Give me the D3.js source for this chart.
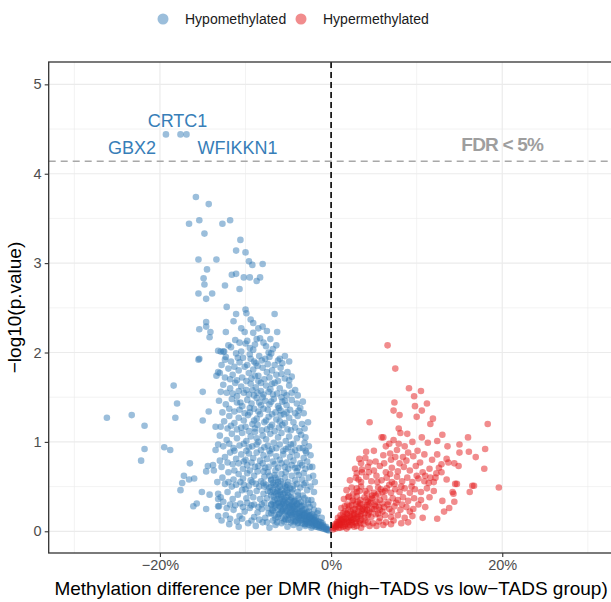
<!DOCTYPE html>
<html><head><meta charset="utf-8">
<script src="https://cdn.jsdelivr.net/npm/d3@7"></script>
<style>body{margin:0;background:#fff}svg{display:block;font-family:"Liberation Sans",Arial,Helvetica,sans-serif}</style>
</head><body><svg id="c" width="611" height="602"></svg>
<script>
// ---------------- data ----------------
const seriesNames = ["Hypomethylated", "Hypermethylated"];
const xTicks = [-20, 0, 20];
const xMinor = [-30, -10, 10, 30];
const yTicks = [0, 1, 2, 3, 4, 5];
const yMinor = [0.5, 1.5, 2.5, 3.5, 4.5];
const fdrThreshold = 4.14;
const fdrText = "FDR < 5%";
const labelGenes = [
  {gene: "GBX2", diff: -19.3, logp: 4.44},
  {gene: "CRTC1", diff: -17.6, logp: 4.44},
  {gene: "WFIKKN1", diff: -16.9, logp: 4.44}
];
// methylation difference (%), -log10(p)
const hypoPoints = [
[-19.3,4.44],[-17.6,4.44],[-16.9,4.44],
[-15.8,3.74],[-14.3,3.66],[-16.6,3.44],[-15.4,3.48],[-12.7,3.44],[-11.8,3.48],[-14.8,3.33],[-10.6,3.26],[-11.1,3.14],[-10.0,3.12],[-15.5,3.04],[-13.4,3.04],[-9.6,3.02],[-9.2,2.98],[-8.0,2.99],[-14.5,2.93],[-11.6,2.87],[-11.1,2.88],[-14.9,2.83],[-14.8,2.76],[-10.2,2.84],[-9.5,2.84],[-8.7,2.80],[-8.3,2.84],[-12.4,2.75],[-10.7,2.71],[-15.5,2.66],[-13.9,2.66],[-14.6,2.60],[-12.2,2.51],[-10.0,2.48],[-9.9,2.44],[-11.1,2.43],[-6.6,2.43],[-11.4,2.35],[-9.4,2.37],[-9.1,2.33],[-14.6,2.34],[-15.4,2.26],[-14.6,2.29],[-14.1,2.23],[-14.2,2.17],[-12.3,2.23],[-10.5,2.27],[-10.1,2.23],[-8.5,2.27],[-8.0,2.29],[-7.5,2.24],[-6.3,2.23],[-9.1,2.22],
[-8.7,2.15],[-8.3,2.16],[-7.9,2.11],[-8.9,2.09],[-7.1,2.15],[-6.4,2.08],[-10.7,2.11],[-10.0,2.1],[-13.2,2.02],[-12.5,2.01],[-10.5,2.01],[-9.5,2.05],[-7.3,2.0],[-6.0,1.93],[-15.4,1.93],
[-26.2,1.27],[-23.3,1.30],[-21.8,1.18],[-18.4,1.63],[-18.0,1.43],[-18.2,1.27],[-21.8,0.92],[-22.2,0.79],[-19.5,0.94],[-18.8,0.91],[-15.5,1.92],[-15.0,1.56],[-14.3,1.34],[-15.0,1.24],[-13.5,1.17],[-16.5,0.76],[-17.2,0.62],[-17.4,0.54],[-17.6,0.46],[-16.6,0.58],[-16.0,0.59],[-14.4,0.73],[-14.6,0.67],[-13.8,0.74],[-13.7,0.68],[-16.1,0.28],[-15.7,0.31],[-14.6,0.25],[-15.1,0.44],[-14.2,0.41],[-13.2,0.42],[-13.2,0.36],[-13.2,0.28],[-13.2,0.17],[-13.4,1.74],[-13.0,1.77],[-12.9,2.01],[-12.6,2.01],[-12.3,1.95],[-13.5,0.91],
[-12.4,1.92],[-11.1,1.99],[-10.3,1.94],[-9.5,1.98],[-9.0,1.9],[-8.4,1.96],[-7.7,1.93],[-7.0,1.99],[-6.2,1.91],[-5.4,1.96],[-10.7,1.89],[-8.8,1.88],[-7.4,1.87],[-4.9,1.9],
[-13.2,1.78],[-12.0,1.82],[-11.5,1.75],[-10.8,1.8],[-10.1,1.84],[-9.6,1.77],[-9.1,1.81],[-8.5,1.74],[-8.0,1.83],[-7.5,1.78],[-6.9,1.8],[-6.4,1.75],[-5.9,1.83],[-5.1,1.78],[-4.6,1.73],[-9.3,1.71],[-7.8,1.7],[-10.4,1.72],
[-12.6,1.64],[-11.8,1.6],[-11.2,1.66],[-10.5,1.62],[-9.9,1.58],[-9.4,1.65],[-8.8,1.61],[-8.2,1.57],[-7.6,1.63],[-7.1,1.59],[-6.6,1.66],[-6.0,1.6],[-5.5,1.55],[-4.9,1.63],[-4.2,1.58],[-10.2,1.55],[-8.5,1.68],[-6.8,1.53],[-12.2,1.55],[-9.0,1.52],
[-13.1,1.46],[-12.3,1.42],[-11.6,1.48],[-11.0,1.44],[-10.4,1.4],[-9.8,1.47],[-9.3,1.43],[-8.7,1.49],[-8.2,1.41],[-7.7,1.46],[-7.2,1.42],[-6.7,1.48],[-6.2,1.4],[-5.7,1.45],[-5.2,1.41],[-4.6,1.47],[-4.0,1.43],[-10.7,1.36],[-9.0,1.37],[-7.4,1.36],[-5.9,1.35],[-8.0,1.5],[-11.9,1.37],[-6.5,1.33],[-3.6,1.38],
[-12.5,1.23],[-11.9,1.29],[-11.3,1.21],[-10.8,1.27],[-10.2,1.24],[-9.7,1.3],[-9.2,1.2],[-8.7,1.26],[-8.3,1.31],[-7.8,1.22],[-7.3,1.28],[-6.9,1.19],[-6.4,1.25],[-5.9,1.3],[-5.4,1.21],[-4.9,1.27],[-4.4,1.22],[-3.9,1.29],[-3.4,1.2],[-10.5,1.16],[-8.9,1.15],[-7.5,1.14],[-6.1,1.16],[-4.7,1.13],[-9.5,1.33],[-12.1,1.15],[-5.2,1.33],
[-13.0,1.07],[-12.2,1.02],[-11.6,1.09],[-11.0,1.04],[-10.4,1.1],[-9.9,1.01],[-9.4,1.06],[-8.9,1.11],[-8.5,1.0],[-8.0,1.07],[-7.6,1.03],[-7.1,1.09],[-6.7,0.99],[-6.2,1.05],[-5.8,1.1],[-5.3,1.01],[-4.9,1.06],[-4.4,0.98],[-4.0,1.04],[-3.5,1.08],[-3.1,0.99],[-10.7,0.96],[-9.2,0.95],[-7.8,0.94],[-6.4,0.93],[-5.0,0.94],[-3.7,0.93],[-12.6,0.95],[-8.2,0.91],[-5.6,0.9],[-11.3,0.9],
[-12.4,0.83],[-11.8,0.88],[-11.1,0.81],[-10.5,0.86],[-10.0,0.8],[-9.6,0.87],[-9.1,0.82],[-8.7,0.88],[-8.3,0.79],[-7.9,0.85],[-7.5,0.81],[-7.1,0.87],[-6.8,0.78],[-6.4,0.84],[-6.0,0.8],[-5.6,0.86],[-5.2,0.77],[-4.8,0.83],[-4.4,0.79],[-4.0,0.85],[-3.6,0.76],[-3.2,0.82],[-2.8,0.78],[-9.8,0.74],[-8.5,0.73],[-7.3,0.72],[-6.2,0.71],[-5.0,0.7],[-3.9,0.71],[-11.5,0.75],[-12.8,0.72],[-10.3,0.7],
[-12.7,0.6],[-12.0,0.66],[-11.4,0.58],[-10.8,0.64],[-10.3,0.59],[-9.8,0.65],[-9.4,0.57],[-9.0,0.62],[-8.6,0.67],[-8.2,0.56],[-7.8,0.61],[-7.4,0.66],[-7.0,0.57],[-6.6,0.63],[-6.2,0.58],[-5.8,0.64],[-5.4,0.6],[-5.0,0.55],[-4.6,0.62],[-4.2,0.57],[-3.8,0.63],[-3.4,0.58],[-3.0,0.54],[-2.6,0.6],[-11.1,0.52],[-9.6,0.51],[-8.4,0.5],[-7.2,0.49],[-6.0,0.5],[-4.8,0.48],[-12.4,0.53],[-10.0,0.47],
[-12.9,0.38],[-12.1,0.44],[-11.5,0.36],[-10.9,0.41],[-10.4,0.46],[-9.9,0.37],[-9.5,0.43],[-9.1,0.38],[-8.7,0.45],[-8.3,0.36],[-7.9,0.42],[-7.5,0.37],[-7.1,0.44],[-6.7,0.39],[-6.3,0.45],[-5.9,0.41],[-5.5,0.36],[-5.1,0.43],[-4.7,0.38],[-4.3,0.34],[-3.9,0.4],[-3.5,0.33],[-3.1,0.37],[-2.7,0.31],[-2.3,0.35],[-11.8,0.3],[-10.6,0.31],[-9.3,0.29],[-8.1,0.3],[-7.0,0.3],[-6.1,0.32],[-12.6,0.33],
[-12.3,0.18],[-11.4,0.24],[-10.7,0.17],[-10.1,0.22],[-9.5,0.26],[-9.0,0.16],[-8.6,0.21],[-8.1,0.25],[-7.7,0.15],[-7.3,0.2],[-6.9,0.24],[-6.5,0.14],[-6.1,0.19],[-5.7,0.23],[-5.3,0.13],[-4.9,0.18],[-4.5,0.22],[-4.1,0.12],[-3.7,0.17],[-3.3,0.2],[-2.9,0.11],[-2.5,0.15],[-2.1,0.12],[-1.7,0.09],
[-11.9,0.08],[-10.8,0.05],[-9.7,0.09],[-8.8,0.06],[-8.0,0.1],[-7.2,0.04],[-6.5,0.07],[-5.8,0.09],[-5.1,0.05],[-4.4,0.07],[-3.7,0.04],[-3.0,0.06],[-2.3,0.04],[-1.6,0.05],[-1.0,0.03],[-0.5,0.02],
[-11.7,2.06],[-9.8,2.13],[-9.1,2.03],[-7.6,2.07],[-6.8,2.04],[-11.2,2.14],[-12.0,2.08],
[-12.8,1.86],[-11.7,1.9],[-10.9,1.94],[-9.8,1.86],[-8.6,1.85],[-8.1,1.91],[-6.6,1.86],[-5.7,1.88],[-11.3,1.84],[-9.4,1.93],[-7.2,1.95],
[-12.4,1.72],[-11.0,1.69],[-9.9,1.68],[-8.9,1.74],[-8.2,1.66],[-7.2,1.72],[-6.2,1.68],[-5.4,1.71],[-4.9,1.69],[-11.8,1.7],[-6.9,1.65],[-5.8,1.76],
[-12.9,1.56],[-11.5,1.54],[-10.8,1.57],[-9.6,1.53],[-8.6,1.55],[-7.9,1.53],[-7.3,1.56],[-6.3,1.54],[-5.2,1.52],[-4.6,1.55],[-3.9,1.52],[-11.0,1.51],[-9.2,1.58],[-5.8,1.5],
[-12.7,1.33],[-11.3,1.34],[-10.1,1.32],[-9.5,1.38],[-8.5,1.34],[-7.9,1.37],[-6.9,1.31],[-6.1,1.38],[-5.5,1.31],[-4.8,1.36],[-4.2,1.32],[-3.8,1.35],[-10.6,1.44],[-8.4,1.44],[-7.0,1.45],[-5.4,1.46],
[-12.9,1.17],[-11.7,1.18],[-11.0,1.14],[-10.0,1.17],[-9.6,1.12],[-8.6,1.19],[-8.1,1.13],[-7.1,1.17],[-6.6,1.12],[-5.7,1.19],[-5.1,1.14],[-4.2,1.16],[-3.7,1.12],[-3.1,1.15],[-9.0,1.24],[-6.0,1.23],[-7.6,1.24],
[-13.2,0.97],[-11.9,0.98],[-11.4,0.93],[-10.2,0.98],[-9.6,0.94],[-8.7,0.97],[-7.4,0.96],[-6.9,0.92],[-6.0,0.97],[-5.3,0.92],[-4.7,0.97],[-4.2,0.91],[-3.3,0.93],[-2.9,0.88],[-9.9,0.9],[-7.2,0.9],[-4.6,0.89],[-8.7,1.04],
[-13.0,0.79],[-12.1,0.77],[-10.8,0.76],[-10.2,0.78],[-9.3,0.77],[-8.9,0.72],[-8.0,0.76],[-7.7,0.71],[-6.6,0.75],[-5.8,0.76],[-5.4,0.72],[-4.6,0.74],[-4.2,0.71],[-3.4,0.74],[-3.0,0.7],[-2.5,0.72],[-11.3,0.68],[-9.5,0.68],[-7.9,0.67],[-6.5,0.68],[-5.3,0.66],[-4.0,0.67],[-3.2,0.65],
[-13.3,0.55],[-12.0,0.55],[-11.6,0.5],[-10.6,0.55],[-10.2,0.52],[-9.2,0.55],[-8.8,0.53],[-7.9,0.54],[-7.6,0.52],[-6.8,0.54],[-6.4,0.52],[-5.6,0.53],[-5.2,0.49],[-4.4,0.51],[-4.0,0.53],[-3.6,0.49],[-3.2,0.52],[-2.8,0.46],[-2.4,0.5],[-2.0,0.44],
[-13.1,0.28],[-12.2,0.26],[-11.2,0.29],[-10.3,0.27],[-9.8,0.32],[-9.0,0.3],[-8.5,0.27],[-7.8,0.32],[-7.4,0.26],[-6.6,0.29],[-5.6,0.3],[-4.9,0.3],[-4.5,0.28],[-4.0,0.3],[-3.2,0.3],[-2.5,0.27],[-2.0,0.24],[-1.6,0.2],
[-12.8,0.12],[-11.8,0.14],[-11.0,0.11],[-10.4,0.14],[-9.3,0.12],[-8.4,0.13],[-7.5,0.1],[-6.8,0.12],[-6.3,0.1],[-5.5,0.11],[-4.7,0.1],[-3.9,0.09],[-3.1,0.08],[-1.3,0.06],
[-2.4,0.85],[-2.1,0.62],[-2.6,0.95],[-3.0,1.05],[-2.7,1.22],[-3.2,1.32],[-1.9,0.55],[-2.2,0.72],[-3.3,1.45],[-3.0,0.9],
[-7.0,0.2],[-7.0,0.3],[-7.0,0.4],[-7.0,0.5],[-7.0,0.58],[-6.6,0.18],[-6.6,0.26],[-6.6,0.35],[-6.6,0.44],[-6.6,0.52],[-6.2,0.16],[-6.2,0.24],[-6.2,0.32],[-6.2,0.4],[-6.2,0.48],[-6.2,0.55],[-5.8,0.15],[-5.8,0.22],[-5.8,0.3],[-5.8,0.38],[-5.8,0.46],[-5.4,0.14],[-5.4,0.21],[-5.4,0.28],[-5.4,0.35],[-5.4,0.43],[-5.4,0.5],[-5.0,0.13],[-5.0,0.19],[-5.0,0.26],[-5.0,0.33],[-5.0,0.4],[-4.6,0.12],[-4.6,0.18],[-4.6,0.24],[-4.6,0.3],[-4.6,0.37],[-4.6,0.44],[-4.2,0.11],[-4.2,0.16],[-4.2,0.22],[-4.2,0.28],[-4.2,0.34],[-3.8,0.1],[-3.8,0.15],[-3.8,0.2],[-3.8,0.25],[-3.8,0.31],[-3.8,0.37],[-3.4,0.09],[-3.4,0.13],[-3.4,0.18],[-3.4,0.23],[-3.4,0.28],[-3.0,0.08],[-3.0,0.12],[-3.0,0.16],[-3.0,0.2],[-3.0,0.25],[-2.6,0.07],[-2.6,0.1],[-2.6,0.14],[-2.6,0.18],[-2.6,0.22],[-2.2,0.06],[-2.2,0.09],[-2.2,0.12],[-2.2,0.15],[-2.2,0.19],[-1.8,0.05],[-1.8,0.08],[-1.8,0.1],[-1.8,0.13],[-1.8,0.16],[-1.4,0.04],[-1.4,0.06],[-1.4,0.08],[-1.4,0.11],[-1.0,0.05],[-1.0,0.07],[-1.0,0.09],[-0.6,0.02],[-0.6,0.03],[-0.6,0.05],[-0.3,0.01],[-0.3,0.02],
[-6.8,0.23],[-6.8,0.33],[-6.8,0.46],[-6.0,0.2],[-6.0,0.28],[-6.0,0.36],[-6.0,0.44],[-5.2,0.17],[-5.2,0.24],[-5.2,0.31],[-5.2,0.38],[-5.2,0.46],[-4.4,0.14],[-4.4,0.2],[-4.4,0.27],[-4.4,0.33],[-3.6,0.12],[-3.6,0.17],[-3.6,0.22],[-3.6,0.28],[-2.8,0.09],[-2.8,0.13],[-2.8,0.17],[-2.8,0.21],[-2.0,0.07],[-2.0,0.1],[-2.0,0.13],[-2.0,0.17],[-1.2,0.04],[-1.2,0.07],[-1.2,0.1],[-0.8,0.03],[-0.8,0.05],
[-6.4,0.3],[-6.4,0.42],[-5.6,0.25],[-5.6,0.34],[-5.6,0.42],[-4.8,0.21],[-4.8,0.28],[-4.8,0.35],[-4.0,0.17],[-4.0,0.24],[-4.0,0.31],[-3.2,0.14],[-3.2,0.19],[-3.2,0.24],[-2.4,0.1],[-2.4,0.14],[-2.4,0.18],[-1.6,0.07],[-1.6,0.11],[-7.4,0.45],[-7.8,0.5],[-7.2,0.62],[-6.5,0.6],[-5.9,0.56],[-5.1,0.52],[-4.5,0.47],[-3.9,0.44],[-3.3,0.4],[-2.7,0.35],[-2.1,0.3],[-1.5,0.23],[-1.1,0.15],
[-5.9,0.27],[-5.3,0.23],[-4.7,0.2],[-4.1,0.19],[-3.5,0.15],[-2.9,0.14],[-2.3,0.11],[-1.7,0.08],[-6.3,0.36],[-5.5,0.32],[-4.9,0.27],[-4.3,0.25],[-3.7,0.21],[-3.1,0.18],[-2.5,0.16],[-1.9,0.12]
];
const hyperPoints = [
[6.6,2.08],[7.5,1.82],[9.1,1.60],[10.5,1.57],[9.7,1.51],[11.2,1.43],[7.4,1.44],[7.3,1.35],[8.0,1.30],[9.8,1.40],[10.6,1.35],[10.0,1.28],[11.9,1.26],[11.6,1.20],[4.5,1.22],[18.3,1.20],[7.9,1.15],[8.1,1.10],[8.9,1.09],[5.9,1.05],[6.1,1.05],[7.3,1.02],[6.8,0.98],[8.6,0.95],[10.1,0.90],[11.3,0.99],[12.4,1.01],[13.0,1.08],[16.0,1.05],[15.0,0.97],[18.0,0.92],[4.1,0.89],[6.9,0.87],[7.7,0.91],[7.5,0.83],[8.4,0.83],[12.4,0.86],[16.1,0.89],[15.0,0.88],[16.9,0.83],[13.5,0.81],[13.7,0.77],[14.4,0.76],[14.9,0.73],[17.9,0.70],[19.6,0.49],[16.5,0.51],[16.2,0.44],[16.7,0.51],[14.5,0.53],[14.7,0.53],[14.2,0.44],[14.3,0.42],[14.4,0.33],[13.8,0.26],[13.0,0.34],[13.2,0.22],[12.4,0.14],[10.7,0.15],[9.0,0.10],[11.4,0.54],[12.0,0.55],[12.3,0.65],[12.9,0.66],[2.1,0.39],[3.0,0.48],[3.5,0.76],[3.6,0.69],[3.2,0.58],[4.5,0.77],
[4.0,0.82],[5.2,0.78],[6.1,0.85],[7.0,0.8],[8.8,0.79],[9.6,0.84],[10.4,0.77],[11.8,0.8],[3.3,0.81],
[2.8,0.7],[3.6,0.66],[4.3,0.72],[5.0,0.68],[5.7,0.73],[6.4,0.66],[7.1,0.71],[7.8,0.67],[8.5,0.72],[9.2,0.68],[9.9,0.73],[10.7,0.66],[11.5,0.7],[12.6,0.71],
[2.2,0.57],[2.9,0.6],[3.5,0.55],[4.1,0.61],[4.7,0.56],[5.3,0.62],[5.9,0.57],[6.5,0.6],[7.1,0.55],[7.7,0.61],[8.3,0.56],[8.9,0.6],[9.5,0.55],[10.2,0.59],[10.9,0.56],[11.6,0.6],[13.5,0.58],
[1.8,0.46],[2.4,0.49],[3.0,0.44],[3.5,0.5],[4.0,0.45],[4.5,0.48],[5.0,0.43],[5.5,0.49],[6.0,0.44],[6.5,0.48],[7.0,0.43],[7.5,0.47],[8.0,0.44],[8.6,0.48],[9.2,0.43],[9.8,0.47],[10.5,0.44],[11.2,0.48],[12.0,0.45],
[1.5,0.36],[2.0,0.38],[2.5,0.34],[3.0,0.39],[3.4,0.35],[3.9,0.38],[4.3,0.33],[4.8,0.37],[5.2,0.4],[5.7,0.35],[6.2,0.38],[6.7,0.33],[7.2,0.37],[7.8,0.35],[8.4,0.38],[9.0,0.34],[9.7,0.37],[10.5,0.35],[11.5,0.38],
[1.2,0.26],[1.6,0.28],[2.0,0.24],[2.4,0.29],[2.8,0.25],[3.2,0.28],[3.6,0.23],[4.0,0.27],[4.4,0.3],[4.8,0.25],[5.2,0.28],[5.7,0.24],[6.2,0.27],[6.8,0.25],[7.4,0.28],[8.1,0.24],[8.8,0.27],[9.6,0.25],[11.0,0.27],
[0.8,0.15],[1.1,0.18],[1.5,0.16],[1.9,0.19],[2.3,0.15],[2.7,0.18],[3.1,0.16],[3.5,0.19],[3.9,0.15],[4.3,0.18],[4.7,0.16],[5.2,0.19],[5.7,0.15],[6.3,0.18],[7.0,0.16],[7.8,0.18],[8.6,0.15],[9.5,0.17],
[0.4,0.06],[0.7,0.08],[1.0,0.07],[1.3,0.1],[1.7,0.08],[2.1,0.1],[2.5,0.07],[2.9,0.09],[3.3,0.11],[3.8,0.08],[4.3,0.1],[4.9,0.09],[5.6,0.11],[6.4,0.1],[7.3,0.12],[0.2,0.02],[0.5,0.03],[0.9,0.04],[1.4,0.05],[2.0,0.05],[2.7,0.05],
[0.6,0.05],[1.0,0.09],[1.2,0.12],[1.5,0.1],[1.7,0.14],[2.0,0.12],[2.2,0.17],[2.5,0.13],[2.7,0.2],[3.0,0.14],[3.2,0.22],[3.4,0.17],[3.7,0.25],[3.9,0.2],[4.2,0.29],[4.5,0.22],[4.6,0.32],[5.0,0.25],[5.3,0.33],[5.6,0.27],[6.0,0.31],[1.8,0.2],[2.3,0.22],[2.9,0.3],[3.4,0.31],[4.1,0.35],[4.8,0.4],[5.5,0.42],[6.3,0.45],[0.3,0.04],[0.8,0.07],
[1.3,0.14],[1.6,0.22],[2.1,0.28],[2.6,0.24],[3.1,0.33],[3.6,0.3],[4.2,0.24],[4.6,0.36],[5.1,0.3],[5.5,0.2],[6.0,0.22],[6.6,0.3],[7.1,0.22],[7.6,0.32],[8.3,0.3],[9.2,0.22],[10.2,0.3],[2.6,0.42],[3.3,0.45],[4.2,0.42],[5.8,0.47],[6.8,0.52],[7.4,0.53],[8.2,0.5],[9.4,0.5],[10.0,0.62],[11.0,0.62],[12.2,0.6],[6.9,0.64],[5.4,0.55],[4.4,0.66],[3.0,0.65],[8.0,0.76],[9.0,0.88],[10.9,0.86],[12.9,0.75],[6.2,0.76],[5.0,0.9],[6.4,0.95],[9.5,1.0],[10.6,1.05],[7.9,0.98],[13.6,0.95],[2.6,0.35],[1.9,0.3],[0.9,0.11],[1.1,0.04],[1.8,0.03],[3.0,0.06],[3.5,0.04],[4.5,0.06],[5.3,0.06],[6.1,0.07],[7.0,0.08],[8.2,0.09],[1.4,0.2],[2.4,0.1],
[0.7,0.1],[1.1,0.13],[1.5,0.13],[1.9,0.15],[2.3,0.12],[2.7,0.14],[3.1,0.19],[3.5,0.13],[3.9,0.24],[4.4,0.2],[1.2,0.07],[1.6,0.06],[2.2,0.07],[2.8,0.11],[3.4,0.09],[4.0,0.12],[0.5,0.08],[1.9,0.1],[2.5,0.19],[3.3,0.26]
];

// ---------------- drawing ----------------
const colors = {Hypomethylated: "#377eb8", Hypermethylated: "#e41a1c"};
const svg = d3.select("#c");
const P = {left: 48.7, right: 613.5, top: 62, bottom: 553};
const x = d3.scaleLinear().domain([-33, 33]).range([P.left, P.right]);
const y = d3.scaleLinear().domain([-0.243, 5.25]).range([P.bottom, P.top]);

// grid
const g = svg.append("g");
g.selectAll(".xm").data(xMinor).join("line").attr("x1", d => x(d)).attr("x2", d => x(d))
  .attr("y1", P.top).attr("y2", P.bottom).attr("stroke", "#ebebeb").attr("stroke-width", 0.6);
g.selectAll(".ym").data(yMinor).join("line").attr("y1", d => y(d)).attr("y2", d => y(d))
  .attr("x1", P.left).attr("x2", P.right).attr("stroke", "#ebebeb").attr("stroke-width", 0.6);
g.selectAll(".xM").data(xTicks).join("line").attr("x1", d => x(d)).attr("x2", d => x(d))
  .attr("y1", P.top).attr("y2", P.bottom).attr("stroke", "#ebebeb").attr("stroke-width", 1.2);
g.selectAll(".yM").data(yTicks).join("line").attr("y1", d => y(d)).attr("y2", d => y(d))
  .attr("x1", P.left).attr("x2", P.right).attr("stroke", "#ebebeb").attr("stroke-width", 1.2);

// clip
svg.append("clipPath").attr("id", "clip").append("rect")
  .attr("x", P.left).attr("y", P.top).attr("width", P.right - P.left).attr("height", P.bottom - P.top);
const plot = svg.append("g").attr("clip-path", "url(#clip)");

const allPts = [
  ...hypoPoints.map(p => ({d: p[0], l: p[1], s: "Hypomethylated"})),
  ...hyperPoints.map(p => ({d: p[0], l: p[1], s: "Hypermethylated"}))
];
plot.selectAll("circle.pt").data(allPts).join("circle")
  .attr("cx", d => x(d.d)).attr("cy", d => y(d.l)).attr("r", 3.3)
  .attr("fill", d => colors[d.s]).attr("fill-opacity", 0.5);

// lines
plot.append("line").attr("x1", P.left).attr("x2", P.right).attr("y1", y(fdrThreshold)).attr("y2", y(fdrThreshold))
  .attr("stroke", "#a8a8a8").attr("stroke-width", 1.4).attr("stroke-dasharray", "7,5");
plot.append("line").attr("x1", x(0)).attr("x2", x(0)).attr("y1", P.top).attr("y2", P.bottom)
  .attr("stroke", "#000").attr("stroke-width", 1.6).attr("stroke-dasharray", "6,4");

// labels
const nudge = {GBX2: [-34, 19.7], CRTC1: [-3, -7.6], WFIKKN1: [51, 19.7]};
plot.selectAll("text.gene").data(labelGenes).join("text")
  .attr("x", d => x(d.diff) + nudge[d.gene][0]).attr("y", d => y(d.logp) + nudge[d.gene][1])
  .attr("text-anchor", "middle").attr("font-size", 18).attr("fill", "#377eb8").text(d => d.gene);
plot.append("text").attr("x", x(20)).attr("y", y(fdrThreshold) - 10)
  .attr("text-anchor", "middle").attr("font-size", 19).attr("font-weight", "bold")
  .attr("fill", "#9e9e9e").attr("letter-spacing", -0.8).text(fdrText);

// border
svg.append("rect").attr("x", P.left).attr("y", P.top).attr("width", P.right - P.left).attr("height", P.bottom - P.top)
  .attr("fill", "none").attr("stroke", "#333").attr("stroke-width", 1.3);

// axes
const xAxis = svg.append("g").attr("transform", `translate(0,${P.bottom})`)
  .call(d3.axisBottom(x).tickValues(xTicks).tickSize(4).tickPadding(3).tickFormat(d => (d < 0 ? "\u2212" + Math.abs(d) : d) + "%"));
const yAxis = svg.append("g").attr("transform", `translate(${P.left},0)`)
  .call(d3.axisLeft(y).tickValues(yTicks).tickSize(4).tickPadding(3).tickFormat(d3.format("d")));
[xAxis, yAxis].forEach(a => {
  a.select(".domain").remove();
  a.selectAll(".tick line").attr("stroke", "#333").attr("stroke-width", 1.1);
  a.selectAll(".tick text").attr("fill", "#4d4d4d").attr("font-size", 14.5)
    .attr("font-family", "'Liberation Sans',Arial,Helvetica,sans-serif");
});

// axis titles
svg.append("text").attr("x", (P.left + P.right) / 2).attr("y", 595).attr("text-anchor", "middle")
  .attr("font-size", 19).attr("fill", "#000").text("Methylation difference per DMR (high\u2212TADS vs low\u2212TADS group)");
svg.append("text").attr("transform", `translate(21,${(P.top + P.bottom) / 2}) rotate(-90)`).attr("text-anchor", "middle")
  .attr("font-size", 19).attr("fill", "#000").text("\u2212log10(p.value)");

// legend
const lg = svg.append("g");
const legX = [163, 301];
seriesNames.forEach((s, i) => {
  lg.append("circle").attr("cx", legX[i]).attr("cy", 19).attr("r", 5.5).attr("fill", colors[s]).attr("fill-opacity", 0.5);
  lg.append("text").attr("x", legX[i] + 22).attr("y", 24).attr("font-size", 14).attr("fill", "#1a1a1a").text(s);
});
</script></body></html>
